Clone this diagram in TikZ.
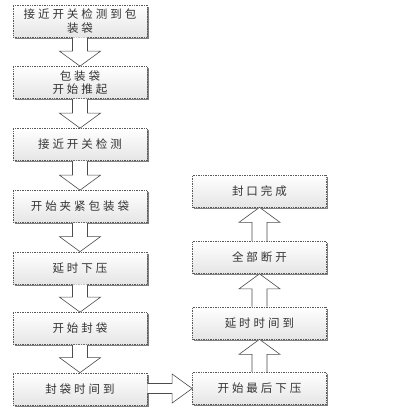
\documentclass[tikz,border=0pt]{standalone}
\usepackage{fontspec}
\newfontfamily\cjk[LetterSpace=26]{Noto Sans CJK SC}
\usetikzlibrary{calc,shadows}
\begin{document}
\begin{tikzpicture}[x=1pt,y=-1pt,
  stepbox/.style={draw=black!65, densely dotted, line width=0.7pt,
    top color=white, bottom color=black!10,
    drop shadow={shadow xshift=1.6pt, shadow yshift=-1.6pt, fill=black!50, opacity=1},
    minimum width=134pt, minimum height=32pt, inner sep=1pt,
    align=center, font=\cjk\fontsize{11.5}{13.5}\selectfont, text=black!80},
  barrow/.style={draw=black!70, line width=0.6pt, fill=white, line join=miter}]
\useasboundingbox (0,0) rectangle (399,413);
% left column
\node[stepbox] (l1) at (80,21) {接近开关检测到包\\装袋};
\node[stepbox] (l2) at (80,82.5) {包装袋\\开始推起};
\node[stepbox] (l3) at (80,144.5) {接近开关检测};
\node[stepbox] (l4) at (80,206.5) {开始夹紧包装袋};
\node[stepbox] (l5) at (80,268) {延时下压};
\node[stepbox] (l6) at (80,328.5) {开始封袋};
\node[stepbox] (l7) at (80,389) {封袋时间到};
% right column
\node[stepbox] (r4) at (259.5,191) {封口完成};
\node[stepbox] (r3) at (259.5,257.5) {全部断开};
\node[stepbox] (r2) at (259.5,323) {延时时间到};
\node[stepbox] (r1) at (259.5,388.5) {开始最后下压};
% down arrows
\foreach \a/\b in {l1/l2,l2/l3,l3/l4,l4/l5,l5/l6,l6/l7}{
  \draw[barrow] let \p1=(\a.south), \p2=(\b.north) in
    (\x1-7.5pt,\y1) -- (\x1-7.5pt,\y2+15pt) -- (\x1-20.5pt,\y2+15pt) -- (\x1,\y2)
    -- (\x1+20.5pt,\y2+15pt) -- (\x1+7.5pt,\y2+15pt) -- (\x1+7.5pt,\y1);
}
% up arrows
\foreach \a/\b in {r1/r2,r2/r3,r3/r4}{
  \draw[barrow] let \p1=(\a.north), \p2=(\b.south) in
    (\x1-7.5pt,\y1) -- (\x1-7.5pt,\y2-15pt) -- (\x1-20.5pt,\y2-15pt) -- (\x1,\y2)
    -- (\x1+20.5pt,\y2-15pt) -- (\x1+7.5pt,\y2-15pt) -- (\x1+7.5pt,\y1);
}
% right arrow
\draw[barrow] let \p1=(l7.east), \p2=(r1.west) in
  (\x1,\y2+5pt) -- (\x2-20pt,\y2+5pt) -- (\x2-20pt,\y2+14.5pt) -- (\x2,\y2)
  -- (\x2-20pt,\y2-14.5pt) -- (\x2-20pt,\y2-5pt) -- (\x1,\y2-5pt);
\end{tikzpicture}
\end{document}
